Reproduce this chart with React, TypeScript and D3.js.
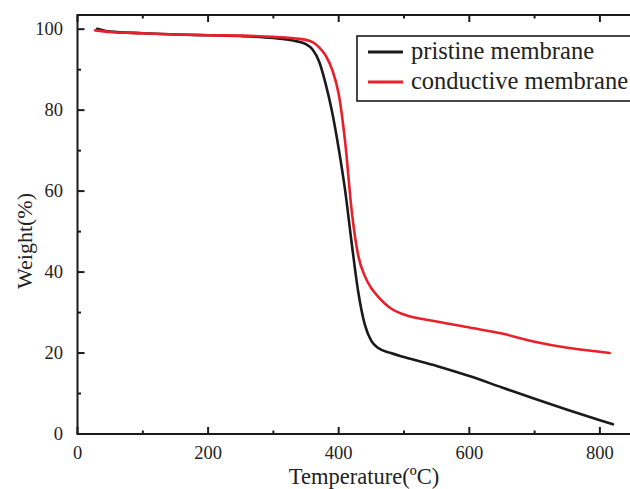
import { useEffect, useRef } from "react";
import * as d3 from "d3";

// pristine membrane (black)
const pristineTemp = [30, 50, 100, 150, 200, 250, 300, 330, 350, 360, 370, 380, 390, 400, 410, 420, 430, 440, 450, 460, 480, 500, 550, 600, 650, 700, 750, 800, 820];
const pristineWeight = [100.1, 99.4, 99.0, 98.7, 98.5, 98.3, 97.8, 97.2, 96.3, 95.0, 92.0, 86.5, 79.5, 70.5, 60, 47, 35, 27, 23, 21.3, 20.0, 19.0, 16.8, 14.3, 11.5, 8.7, 6.0, 3.4, 2.4];

// conductive membrane (red)
const conductiveTemp = [27, 50, 100, 150, 200, 250, 300, 340, 360, 370, 380, 390, 400, 410, 420, 430, 440, 450, 460, 480, 500, 550, 600, 650, 700, 750, 800, 815];
const conductiveWeight = [99.7, 99.3, 99.0, 98.7, 98.5, 98.4, 98.1, 97.6, 96.8, 95.5, 93.5, 90, 84, 72, 55, 44, 39, 36, 34, 31, 29.5, 27.8, 26.3, 24.8, 22.8, 21.3, 20.3, 20.0];

const xTicks = [0, 200, 400, 600, 800];
const yTicks = [0, 20, 40, 60, 80, 100];
const legendLabels = ["pristine membrane", "conductive membrane"];
const seriesColors = ["#1a1a1a", "#e8202a"];

const App = () => {
  const ref = useRef(null);

  useEffect(() => {
    const width = 630;
    const height = 489;
    const left = 77.5;
    const top = 15;
    const bottom = 434;
    const font = "'Liberation Serif', 'Times New Roman', serif";

    const x = d3.scaleLinear().domain([0, 850]).range([left, left + 850 * 0.653]);
    const y = d3.scaleLinear().domain([0, 103.5]).range([bottom, top]);

    const svg = d3.select(ref.current);
    svg.selectAll("*").remove();
    svg.attr("width", width).attr("height", height);

    const series = [
      { t: pristineTemp, w: pristineWeight },
      { t: conductiveTemp, w: conductiveWeight }
    ];

    const line = d3.line<[number, number]>()
      .x(d => x(d[0]))
      .y(d => y(d[1]))
      .curve(d3.curveMonotoneX);

    series.forEach((s, i) => {
      const pts = s.t.map((t, j) => [t, s.w[j]] as [number, number]);
      svg.append("path")
        .attr("d", line(pts))
        .attr("fill", "none")
        .attr("stroke", seriesColors[i])
        .attr("stroke-width", 2.6)
        .attr("stroke-linejoin", "round")
        .attr("stroke-linecap", "round");
    });

    // axes frame
    const axisColor = "#1a1a1a";
    svg.append("line").attr("x1", left).attr("x2", width + 5).attr("y1", bottom).attr("y2", bottom)
      .attr("stroke", axisColor).attr("stroke-width", 2);
    svg.append("line").attr("x1", left).attr("x2", width + 5).attr("y1", top).attr("y2", top)
      .attr("stroke", axisColor).attr("stroke-width", 2);
    svg.append("line").attr("x1", left).attr("x2", left).attr("y1", top - 1).attr("y2", bottom + 1)
      .attr("stroke", axisColor).attr("stroke-width", 2);

    // x ticks (bottom + top, inward)
    d3.range(0, 851, 100).forEach(v => {
      const major = v % 200 === 0;
      const len = major ? 7 : 3.5;
      svg.append("line").attr("x1", x(v)).attr("x2", x(v)).attr("y1", bottom).attr("y2", bottom - len)
        .attr("stroke", axisColor).attr("stroke-width", 2);
      svg.append("line").attr("x1", x(v)).attr("x2", x(v)).attr("y1", top).attr("y2", top + len)
        .attr("stroke", axisColor).attr("stroke-width", 2);
    });
    xTicks.forEach(v => {
      svg.append("text").attr("x", x(v)).attr("y", 459)
        .attr("text-anchor", "middle").attr("font-family", font).attr("font-size", 18.5)
        .attr("fill", "#222").text(v);
    });

    // y ticks (left, inward)
    d3.range(0, 101, 10).forEach(v => {
      const len = v % 20 === 0 ? 7 : 3.5;
      svg.append("line").attr("x1", left).attr("x2", left + len).attr("y1", y(v)).attr("y2", y(v))
        .attr("stroke", axisColor).attr("stroke-width", 2);
    });
    yTicks.forEach(v => {
      svg.append("text").attr("x", 63).attr("y", y(v) + 6)
        .attr("text-anchor", "end").attr("font-family", font).attr("font-size", 18.5)
        .attr("fill", "#222").text(v);
    });

    // axis titles
    svg.append("text").attr("x", 364).attr("y", 484)
      .attr("text-anchor", "middle").attr("font-family", font).attr("font-size", 22.5)
      .attr("fill", "#222").text("Temperature(ºC)");
    svg.append("text").attr("transform", `translate(32, ${241}) rotate(-90)`)
      .attr("text-anchor", "middle").attr("font-family", font).attr("font-size", 22)
      .attr("fill", "#222").text("Weight(%)");

    // legend
    svg.append("rect").attr("x", 357).attr("y", 36).attr("width", 290).attr("height", 65)
      .attr("fill", "white").attr("stroke", axisColor).attr("stroke-width", 1.6);
    legendLabels.forEach((lab, i) => {
      const ly = 52 + i * 30;
      svg.append("line").attr("x1", 368).attr("x2", 403).attr("y1", ly).attr("y2", ly)
        .attr("stroke", seriesColors[i]).attr("stroke-width", 3);
      svg.append("text").attr("x", 411).attr("y", ly + 7)
        .attr("font-family", font).attr("font-size", 24.5).attr("fill", "#222").text(lab);
    });
  }, []);

  return (
    <div style={{ position: "absolute", left: 0, top: 0 }}>
      <svg ref={ref} style={{ display: "block" }}></svg>
    </div>
  );
};

export default App;
